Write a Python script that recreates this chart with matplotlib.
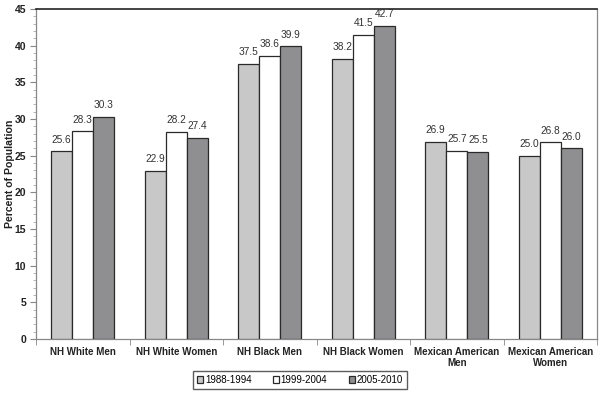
import matplotlib
matplotlib.use("Agg")
import matplotlib.pyplot as plt
import numpy as np

categories = ["NH White Men", "NH White Women", "NH Black Men", "NH Black Women",
              "Mexican American\nMen", "Mexican American\nWomen"]
series_names = ["1988-1994", "1999-2004", "2005-2010"]
v1988 = [25.6, 22.9, 37.5, 38.2, 26.9, 25.0]
v1999 = [28.3, 28.2, 38.6, 41.5, 25.7, 26.8]
v2005 = [30.3, 27.4, 39.9, 42.7, 25.5, 26.0]
colors = ["#c8c8c8", "#ffffff", "#8f8f91"]

plt.rcParams['font.family'] = ['Liberation Sans', 'DejaVu Sans']

fig = plt.figure(figsize=(6.04, 3.96), dpi=100)
ax = fig.add_axes([36/604, 1-339/396, (597-36)/604, (339-9)/396])

x = np.arange(len(categories))
w = 0.225
for i, (vals, name, c) in enumerate(zip([v1988, v1999, v2005], series_names, colors)):
    bars = ax.bar(x + (i-1)*w, vals, w, color=c, edgecolor="#2a2a2a", linewidth=0.9,
                  label=name, zorder=3)
    for b, v in zip(bars, vals):
        ax.text(b.get_x()+b.get_width()/2, v + 1.6, f"{v:.1f}", ha="center", va="center",
                fontsize=7.3, color="#333333")

ax.set_xlim(-0.5, 5.5)
ax.set_ylim(0, 45)
ax.set_yticks(np.arange(0, 46, 5))
ax.set_yticks(np.arange(0, 46, 1), minor=True)
ax.set_xticks(x)
ax.set_xticklabels(categories, fontsize=7.0, fontweight="bold", color="#222222", linespacing=1.05)
ax.set_xticks(np.arange(-0.5, 6, 1), minor=True)
ax.tick_params(axis="x", which="major", length=0, pad=6)
ax.tick_params(axis="x", which="minor", length=4, color="#888888")
ax.tick_params(axis="y", which="major", length=4, color="#888888", labelsize=7.5, pad=3)
ax.tick_params(axis="y", which="minor", length=2, color="#aaaaaa")
for lab in ax.get_yticklabels():
    lab.set_fontweight("bold")
    lab.set_color("#222222")
ax.set_ylabel("Percent of Population", fontsize=7.6, fontweight="bold", color="#222222")
ax.yaxis.set_label_coords(-21/561, 0.5)

ax.spines["top"].set_color("#222222")
ax.spines["top"].set_linewidth(1.2)
for s in ["left", "bottom", "right"]:
    ax.spines[s].set_color("#888888")
    ax.spines[s].set_linewidth(0.9)

leg = fig.legend(loc="center", bbox_to_anchor=(300/604, 1-380/396), ncol=3, fontsize=7.0,
                 frameon=True, fancybox=False, handlelength=0.6, handleheight=0.6,
                 handletextpad=0.2, columnspacing=2.2, borderpad=0.45, borderaxespad=0)
leg.get_frame().set_edgecolor("#333333")
leg.get_frame().set_linewidth(1.0)

fig.savefig("out.png", dpi=100)
